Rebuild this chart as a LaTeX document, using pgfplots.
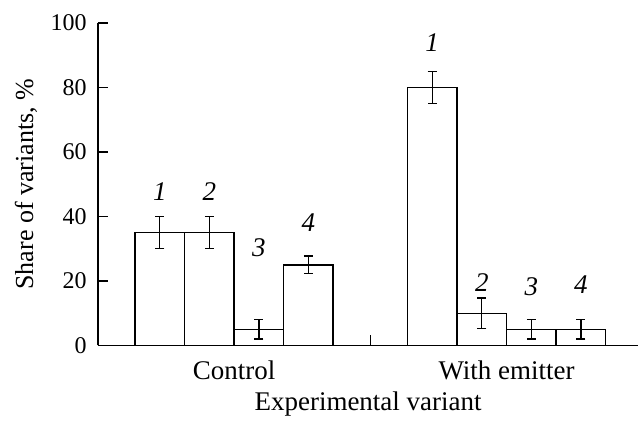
\documentclass[border=0pt]{standalone}
\usepackage{fontspec}
\setmainfont{Liberation Serif}
\usepackage{pgfplots}
\pgfplotsset{compat=1.18}

\pgfplotstableread{
x    y   err
1    35  5
2    35  5
3    5   3
4    25  2.7
6.5  80  5
7.5  10  4.7
8.5  5   3
9.5  5   3
}\shares

\pgfplotstableread{
x    y     lab
1    47.7  1
2    47.7  2
3    30.3  3
4    38.0  4
6.5  93.8  1
7.5  19.5  2
8.5  18.3  3
9.5  18.9  4
}\labels

\begin{document}
\fontsize{13.5}{16}\selectfont
\begin{tikzpicture}
  \begin{axis}[
      x=24.8pt, y=1.615pt,
      xmin=-0.25, xmax=10.66,
      ymin=0, ymax=100,
      axis lines=left,
      axis line style={-, line width=0.7pt},
      clip=false,
      ytick={0,20,...,100},
      xtick={5.25},
      xticklabels={},
      extra x ticks={2.5,8},
      extra x tick labels={Control,With emitter},
      extra x tick style={major tick length=0pt},
      tick align=inside,
      major tick length=5.3pt,
      tick style={line width=0.7pt, black},
      xticklabel style={anchor=base, yshift=-17pt},
      yticklabel style={xshift=-1pt, font=\fontsize{12}{14}\selectfont},
      /pgf/number format/assume math mode=true,
      ylabel={Share of variants, \%},
      xlabel={Experimental variant},
      ylabel style={at={(axis description cs:-0.133,0.5)}, anchor=center, font=\fontsize{13}{15}\selectfont},
      xlabel style={at={(axis description cs:0.5,-0.203)}, anchor=base},
    ]
    \addplot[ybar, bar width=1, bar shift=0pt, draw=black, fill=white, line width=0.7pt,
      error bars/.cd, y dir=both, y explicit,
      error bar style={line width=0.7pt, black},
      error mark options={line width=0.7pt, mark size=2.25pt, black, rotate=90}]
      table[x=x, y=y, y error=err] {\shares};
    \addplot[draw=none, mark=none, nodes near coords, point meta=explicit symbolic,
      every node near coord/.append style={anchor=center, font=\itshape, inner sep=0pt}]
      table[x=x, y=y, meta=lab] {\labels};
    % blank frame so the page has the reference's margins
    \path (axis cs:-2.226,-21.05) rectangle (axis cs:10.66,107.1);
  \end{axis}
\end{tikzpicture}
\end{document}
